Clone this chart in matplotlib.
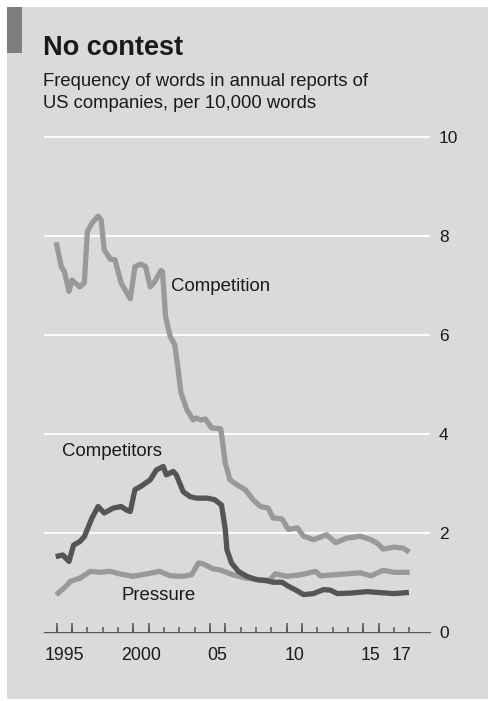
#word frequency chart: competition, competitors, pressure

import matplotlib
matplotlib.use("Agg")
import matplotlib.pyplot as plt
from matplotlib.patches import Rectangle

plt.rcParams['font.family'] = ['Liberation Sans', 'DejaVu Sans']

#data (decimal years, per 10,000 words)
comp_years = [1995.0, 1995.3, 1995.5, 1995.8, 1996.0, 1996.5, 1996.8, 1997.0, 1997.3, 1997.7,
              1997.9, 1998.1, 1998.5, 1998.8, 1999.2, 1999.8, 2000.1, 2000.5, 2000.8, 2001.1,
              2001.4, 2001.8, 2001.9, 2002.1, 2002.4, 2002.7, 2002.9, 2003.1, 2003.5, 2003.9,
              2004.1, 2004.4, 2004.7, 2005.1, 2005.7, 2006.0, 2006.3, 2006.75, 2007.3, 2007.8,
              2008.3, 2008.8, 2009.1, 2009.7, 2010.1, 2010.7, 2011.1, 2011.75, 2012.6, 2013.2,
              2013.9, 2014.8, 2015.5, 2015.9, 2016.3, 2017.0, 2017.6, 2017.85]
competition = [7.82, 7.38, 7.28, 6.88, 7.11, 6.97, 7.05, 8.09, 8.26, 8.40,
               8.32, 7.72, 7.53, 7.52, 7.05, 6.73, 7.38, 7.43, 7.38, 6.97,
               7.08, 7.30, 7.28, 6.37, 5.97, 5.80, 5.36, 4.83, 4.48, 4.28,
               4.32, 4.28, 4.30, 4.12, 4.10, 3.40, 3.07, 2.97, 2.87, 2.67,
               2.53, 2.50, 2.30, 2.28, 2.07, 2.10, 1.93, 1.86, 1.96, 1.80,
               1.89, 1.93, 1.86, 1.79, 1.67, 1.71, 1.69, 1.64]

rival_years = [1995.1, 1995.4, 1995.8, 1996.1, 1996.5, 1996.8, 1997.3, 1997.7, 1998.1, 1998.7,
               1999.2, 1999.55, 1999.8, 2000.1, 2000.5, 2001.1, 2001.5, 2001.95, 2002.15, 2002.6,
               2002.8, 2003.25, 2003.7, 2004.1, 2004.8, 2005.3, 2005.75, 2006.0, 2006.1, 2006.4,
               2006.85, 2007.4, 2008.05, 2008.7, 2009.1, 2009.7, 2010.1, 2010.55, 2011.1, 2011.75,
               2012.4, 2012.85, 2013.3, 2014.15, 2015.25, 2016.1, 2017.0, 2017.8]
competitors = [1.53, 1.55, 1.42, 1.75, 1.82, 1.92, 2.30, 2.53, 2.40, 2.50,
               2.53, 2.46, 2.43, 2.87, 2.94, 3.07, 3.27, 3.34, 3.17, 3.24,
               3.17, 2.83, 2.73, 2.70, 2.70, 2.67, 2.56, 2.06, 1.66, 1.39,
               1.22, 1.12, 1.05, 1.03, 1.00, 1.00, 0.92, 0.85, 0.75, 0.77,
               0.85, 0.84, 0.77, 0.78, 0.81, 0.79, 0.77, 0.79]

press_years = [1995.1, 1995.6, 1995.9, 1996.5, 1997.2, 1997.8, 1998.5, 1999.1, 1999.95, 2000.9,
               2001.7, 2002.4, 2003.25, 2003.8, 2004.25, 2004.55, 2005.2, 2005.65, 2006.5, 2007.4,
               2008.3, 2008.9, 2009.25, 2010.0, 2010.9, 2011.9, 2012.2, 2013.1, 2013.9, 2014.8,
               2015.5, 2016.3, 2017.0, 2017.85]
pressure = [0.78, 0.92, 1.02, 1.08, 1.22, 1.20, 1.22, 1.17, 1.12, 1.17,
            1.22, 1.13, 1.12, 1.15, 1.39, 1.37, 1.27, 1.25, 1.15, 1.08,
            1.05, 1.04, 1.17, 1.12, 1.15, 1.22, 1.13, 1.15, 1.17, 1.19,
            1.13, 1.24, 1.20, 1.20]

year_labels = ["1995", "2000", "05", "10", "15", "17"]
label_years = [1995, 2000, 2005, 2010, 2015, 2017]
tick_years = list(range(1995, 2019))
tall_ticks = [1995, 1996, 2000, 2001, 2005, 2006, 2010, 2011, 2015, 2016]
y_ticks = [0, 2, 4, 6, 8, 10]

bg = "#d9dadb"
light = "#999999"
dark = "#555555"
ink = "#1a1a1a"

W, H = 488, 701
def fx(px):
    return px / W
def fy(py):
    return 1 - py / H

fig = plt.figure(figsize=(W / 100, H / 100), dpi=100, facecolor="white")

#grey panel and the little accent block (kept behind the axes)
fig.patches.append(Rectangle((fx(7), fy(699)), 1, (699 - 7) / H, transform=fig.transFigure,
                             facecolor=bg, edgecolor="none", zorder=-2))
fig.patches.append(Rectangle((fx(7), fy(53)), 15 / W, 46 / H, transform=fig.transFigure,
                             facecolor="#7d7e80", edgecolor="none", zorder=-1))

fig.text(fx(43), fy(55), "No contest", fontsize=19.5, fontweight="bold", color=ink, va="baseline")
fig.text(fx(43), fy(86), "Frequency of words in annual reports of", fontsize=13.3, color=ink, va="baseline")
fig.text(fx(43), fy(108), "US companies, per 10,000 words", fontsize=13.3, color=ink, va="baseline")

#axes: y=0 at 631.7px, 49.47px per unit
y0 = 631.7
unit = 49.47
ytop = 10.2
ax = fig.add_axes([fx(44), fy(y0), 386 / W, ytop * unit / H])
ax.set_facecolor("none")
ax.set_ylim(0, ytop)
ax.set_xlim(1994.17, 2019.35)

for s in ["top", "left", "right"]:
    ax.spines[s].set_visible(False)
ax.spines["bottom"].set_color(dark)
ax.spines["bottom"].set_linewidth(1)

ax.set_yticks(y_ticks)
ax.yaxis.tick_right()
ax.tick_params(axis="y", length=0, pad=6.5, labelsize=12.5, labelcolor=ink)
ax.grid(axis="y", color="white", linewidth=1.3)
ax.set_axisbelow(True)

#year labels sit in the middle of each year, tick marks on year boundaries
ax.set_xticks([y + 0.5 for y in label_years])
ax.set_xticklabels(year_labels)
ax.tick_params(axis="x", which="major", length=0, pad=11, labelsize=12.8, labelcolor=ink)
ax.vlines(tick_years, 0, 4.5 / unit, color=dark, linewidth=1.1, clip_on=False)
ax.vlines(tall_ticks, 0, 9 / unit, color=dark, linewidth=1.1, clip_on=False)

ax.plot(comp_years, competition, color=light, linewidth=3.8, solid_joinstyle="round")
ax.plot(press_years, pressure, color=light, linewidth=3.8, solid_joinstyle="round")
ax.plot(rival_years, competitors, color=dark, linewidth=3.8, solid_joinstyle="round")

ax.text(2002.45, 6.98, "Competition", fontsize=13.4, color=ink, va="center")
ax.text(1995.35, 3.64, "Competitors", fontsize=13.4, color=ink, va="center")
ax.text(1999.24, 0.73, "Pressure", fontsize=13.4, color=ink, va="center")

fig.savefig("out.png", dpi=100, facecolor="white")
